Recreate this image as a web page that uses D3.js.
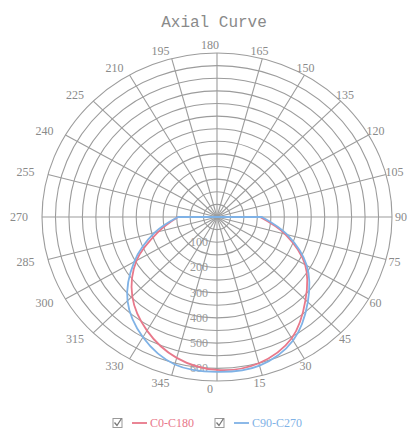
<!DOCTYPE html>
<html>
<head>
<meta charset="utf-8">
<script src="https://cdn.jsdelivr.net/npm/d3@7"></script>
<style>
    html, body { margin: 0; padding: 0; background: #fff; }
    #chart { width: 408px; height: 430px; }
</style>
</head>
<body>
<div id="chart"></div>
<script>
var angleTicks = d3.range(0, 360, 15);
var radialLabels = [100, 200, 300, 400, 500, 600];
var ringValues = d3.range(50, 651, 50);

// angles in degrees, 0 = straight down, counting toward the right side
var curveAngles = [270, 285, 300, 315, 330, 345, 0, 15, 30, 45, 60, 75, 90];
var c0c180 = [145, 225, 345, 445, 520, 578, 606, 600, 555, 465, 378, 262, 160];
var c90c270 = [145, 240, 355, 470, 550, 605, 614, 610, 565, 477, 385, 270, 167];

var seriesNames = ['C0-C180', 'C90-C270'];
var seriesColors = ['#e8788a', '#7fb2e6'];

(function () {
    'use strict';

    var w = 408, h = 430;
    var cx = 217, cy = 217;
    var maxVal = 650;

    var rx = d3.scaleLinear().domain([0, maxVal]).range([0, 175]);
    var ry = d3.scaleLinear().domain([0, maxVal]).range([0, 164]);

    var svg = d3.select('#chart')
                .append('svg')
                .attr('width', w)
                .attr('height', h);

    function px(a, v) { return cx + rx(v) * Math.sin(a * Math.PI / 180); }
    function py(a, v) { return cy + ry(v) * Math.cos(a * Math.PI / 180); }

    svg.append('text')
       .attr('x', 214).attr('y', 23)
       .attr('text-anchor', 'middle')
       .attr('dominant-baseline', 'central')
       .style('font-family', '"Liberation Mono", monospace')
       .style('font-size', '16px')
       .style('fill', '#8a8a8a')
       .text('Axial Curve');

    var grid = svg.append('g')
                  .attr('fill', 'none')
                  .attr('stroke', '#9c9c9c')
                  .attr('stroke-width', 1.1);

    grid.selectAll('ellipse')
        .data(ringValues)
        .enter()
        .append('ellipse')
        .attr('cx', cx).attr('cy', cy)
        .attr('rx', function (d) { return rx(d); })
        .attr('ry', function (d) { return ry(d); });

    grid.selectAll('line')
        .data(angleTicks)
        .enter()
        .append('line')
        .attr('x1', cx).attr('y1', cy)
        .attr('x2', function (d) { return px(d, maxVal); })
        .attr('y2', function (d) { return py(d, maxVal); });

    // angle labels round the outside
    svg.selectAll('.ang')
       .data(angleTicks)
       .enter()
       .append('text')
       .attr('class', 'ang')
       .attr('x', function (d) { return cx - 7 + (rx(maxVal) + 16) * Math.sin(d * Math.PI / 180); })
       .attr('y', function (d) { return cy + (ry(maxVal) + 8) * Math.cos(d * Math.PI / 180); })
       .attr('text-anchor', 'middle')
       .attr('dominant-baseline', 'central')
       .style('font-family', '"Liberation Serif", serif')
       .style('font-size', '12px')
       .style('fill', '#8a8a8a')
       .text(function (d) { return d; });

    svg.selectAll('.rad')
       .data(radialLabels)
       .enter()
       .append('text')
       .attr('class', 'rad')
       .attr('x', cx - 18)
       .attr('y', function (d) { return cy + ry(d); })
       .attr('text-anchor', 'middle')
       .attr('dominant-baseline', 'central')
       .style('font-family', '"Liberation Serif", serif')
       .style('font-size', '12px')
       .style('fill', '#999')
       .text(function (d) { return d; });

    var line = d3.line()
                 .x(function (d) { return px(d[0], d[1]); })
                 .y(function (d) { return py(d[0], d[1]); })
                 .curve(d3.curveCatmullRom);

    [c0c180, c90c270].forEach(function (vals, i) {
        var pts = curveAngles.map(function (a, j) { return [a, vals[j]]; });
        svg.append('path')
           .attr('d', line(pts) + 'L' + cx + ',' + cy + 'Z')
           .attr('fill', 'none')
           .attr('stroke', seriesColors[i])
           .attr('stroke-width', 1.8);
    });

    // legend
    var legX = [113, 215];
    var leg = svg.selectAll('.leg')
                 .data(seriesNames)
                 .enter()
                 .append('g')
                 .attr('class', 'leg')
                 .attr('transform', function (d, i) { return 'translate(' + legX[i] + ',423)'; });

    leg.append('rect')
       .attr('x', 0).attr('y', -4.5)
       .attr('width', 9).attr('height', 9)
       .attr('fill', '#fff')
       .attr('stroke', '#999');
    leg.append('path')
       .attr('d', 'M1.5,-0.5L4,2.5L8.5,-4.5')
       .attr('fill', 'none')
       .attr('stroke', '#777')
       .attr('stroke-width', 1.3);
    leg.append('line')
       .attr('x1', 19).attr('x2', 34)
       .attr('y1', 0).attr('y2', 0)
       .attr('stroke', function (d, i) { return seriesColors[i]; })
       .attr('stroke-width', 1.8);
    leg.append('text')
       .attr('x', 37).attr('y', 0)
       .attr('dominant-baseline', 'central')
       .style('font-family', '"Liberation Serif", serif')
       .style('font-size', '12px')
       .style('fill', function (d, i) { return seriesColors[i]; })
       .text(function (d) { return d; });
})();
</script>
</body>
</html>
